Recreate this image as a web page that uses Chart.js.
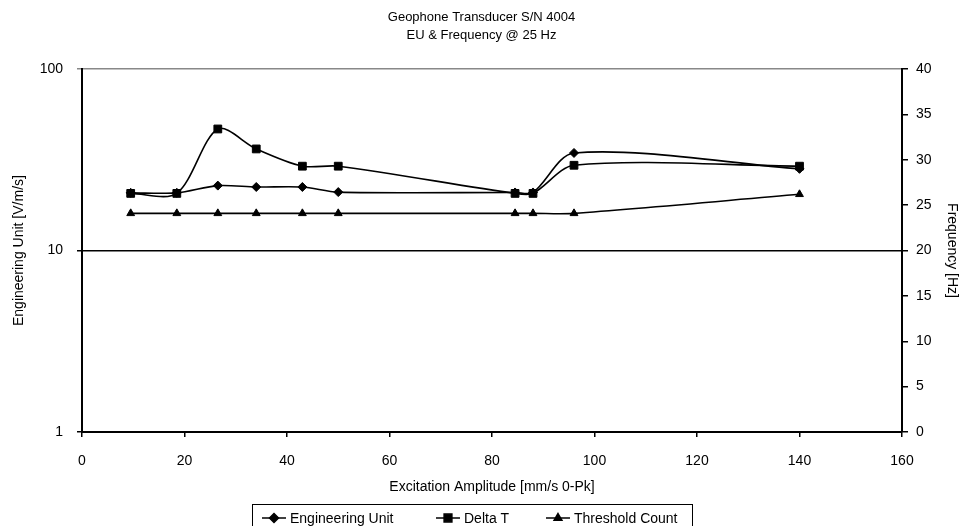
<!DOCTYPE html>
<html>
<head>
<meta charset="utf-8">
<script src="https://cdn.jsdelivr.net/npm/chart.js@4"></script>
<style>
  html, body { margin: 0; padding: 0; background: #fff; }
  #wrap { width: 963px; height: 526px; }
</style>
</head>
<body>
<div id="wrap"><canvas id="geoChart" width="963" height="526"></canvas></div>
<script>
// values
const amplitude = [9.5, 18.5, 26.5, 34, 43, 50, 84.5, 88, 96, 140];
const engineeringUnit = [20.8, 20.8, 22.8, 22.4, 22.4, 21.0, 20.9, 20.9, 34.5, 28.2];
const deltaT = [26.3, 26.3, 33.4, 31.2, 29.3, 29.3, 26.3, 26.3, 29.4, 29.3];
const thresholdCount = [24.1, 24.1, 24.1, 24.1, 24.1, 24.1, 24.1, 24.1, 24.1, 26.2];
const euTicks = [1, 10, 100];
const seriesNames = ['Engineering Unit', 'Delta T', 'Threshold Count'];
const titleLines = ['Geophone Transducer S/N 4004', 'EU & Frequency @ 25 Hz'];

Chart.defaults.font.family = '"Liberation Sans", Arial, sans-serif';
Chart.defaults.font.size = 14;
Chart.defaults.color = '#000';

function toPoints(ys) {
    return amplitude.map((x, i) => ({ x: x, y: ys[i] }));
}

// bottom legend: line + marker, boxed like the spreadsheet original
const boxedLegend = {
    id: 'boxedLegend',
    afterDraw(chart) {
        const ctx = chart.ctx;
        const starts = [262, 436, 546];
        const cy = 518;
        ctx.save();
        ctx.strokeStyle = '#000';
        ctx.lineWidth = 1;
        ctx.strokeRect(252.5, 504.5, 440, 40);
        ctx.font = '14px "Liberation Sans", Arial, sans-serif';
        ctx.textBaseline = 'middle';
        ctx.fillStyle = '#000';
        chart.data.datasets.forEach((ds, i) => {
            const x = starts[i];
            ctx.lineWidth = 1.5;
            ctx.beginPath();
            ctx.moveTo(x, cy);
            ctx.lineTo(x + 24, cy);
            ctx.stroke();
            Chart.helpers.drawPoint(ctx, {
                pointStyle: ds.pointStyle,
                radius: ds.pointRadius,
                borderWidth: 1
            }, x + 12, cy);
            ctx.fillText(ds.label, x + 28, cy + 1);
        });
        ctx.restore();
    }
};

const commonLine = {
    borderColor: '#000',
    backgroundColor: '#000',
    borderWidth: 1.6,
    tension: 0.3,
    pointBorderColor: '#000',
    pointBackgroundColor: '#000',
    pointBorderWidth: 1
};

new Chart(document.getElementById('geoChart').getContext('2d'), {
    type: 'line',
    data: {
        datasets: [
            Object.assign({}, commonLine, {
                label: seriesNames[0],
                data: toPoints(engineeringUnit),
                yAxisID: 'y',
                pointStyle: 'rectRot',
                pointRadius: 4.5
            }),
            Object.assign({}, commonLine, {
                label: seriesNames[1],
                data: toPoints(deltaT),
                yAxisID: 'y1',
                pointStyle: 'rect',
                pointRadius: 5.5
            }),
            Object.assign({}, commonLine, {
                label: seriesNames[2],
                data: toPoints(thresholdCount),
                yAxisID: 'y1',
                pointStyle: 'triangle',
                pointRadius: 4.5
            })
        ]
    },
    options: {
        responsive: false,
        animation: false,
        layout: { padding: 0 },
        plugins: {
            legend: { display: false },
            tooltip: { enabled: false },
            title: {
                display: true,
                text: titleLines,
                font: { size: 13, weight: 'normal', lineHeight: 1.35 },
                color: '#000',
                padding: { top: 9, bottom: 25 }
            }
        },
        scales: {
            x: {
                type: 'linear',
                min: 0,
                max: 160,
                ticks: { stepSize: 20, padding: 16, maxRotation: 0 },
                grid: { drawOnChartArea: false, color: '#000', tickLength: 5, lineWidth: 1.5 },
                border: { color: '#000', width: 2 },
                title: {
                    display: true,
                    text: 'Excitation Amplitude [mm/s 0-Pk]',
                    padding: { top: 0, bottom: 30 }
                },
                afterFit(scale) { scale.height = 94; }
            },
            y: {
                type: 'logarithmic',
                position: 'left',
                min: 1,
                max: 100,
                afterBuildTicks(scale) {
                    scale.ticks = euTicks.map(v => ({ value: v }));
                },
                ticks: {
                    padding: 14,
                    callback: v => String(v)
                },
                grid: {
                    color: c => (c.tick && c.tick.value === 100 ? '#888' : '#000'),
                    lineWidth: 1.5,
                    tickLength: 5
                },
                border: { color: '#000', width: 2 },
                title: {
                    display: true,
                    text: 'Engineering Unit [V/m/s]',
                    padding: { top: 11, bottom: 0 }
                },
                afterFit(scale) { scale.width = 82; }
            },
            y1: {
                type: 'linear',
                position: 'right',
                min: 0,
                max: 40,
                ticks: { stepSize: 5, padding: 8 },
                grid: { drawOnChartArea: false, color: '#000', tickLength: 6, lineWidth: 1.5 },
                border: { color: '#000', width: 2 },
                title: {
                    display: true,
                    text: 'Frequency [Hz]',
                    padding: { top: 3, bottom: 0 }
                },
                afterFit(scale) { scale.width = 61; }
            }
        }
    },
    plugins: [boxedLegend]
});
</script>
</body>
</html>
